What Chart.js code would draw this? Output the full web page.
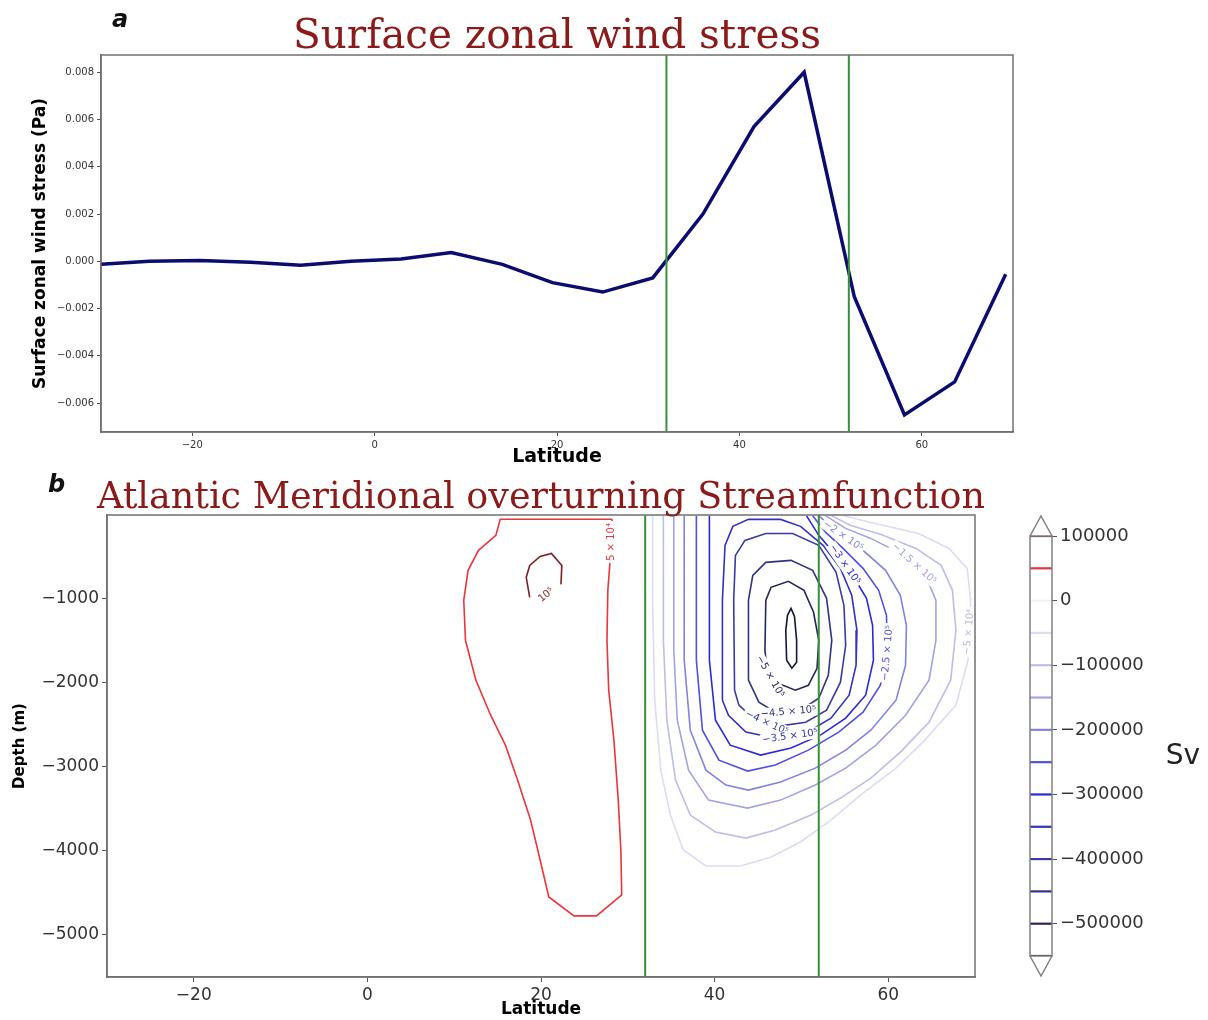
<!DOCTYPE html>
<html>
<head>
<meta charset="utf-8">
<script src="https://cdn.jsdelivr.net/npm/chart.js@4.4.1/dist/chart.umd.min.js"></script>
<style>
  body { margin: 0; background: #fff; width: 1208px; height: 1020px; overflow: hidden; position: relative; font-family: "DejaVu Sans", sans-serif; }
  canvas { position: absolute; }
  .tag { position: absolute; font-weight: bold; font-style: italic; font-size: 24px; line-height: 1; color: #111; }
</style>
</head>
<body>
<canvas id="tauChart" width="1040" height="470" style="left:0;top:0"></canvas>
<canvas id="amocChart" width="1000" height="550" style="left:0;top:470px"></canvas>
<canvas id="cbarChart" width="208" height="490" style="left:1000px;top:500px"></canvas>
<div class="tag" style="left:112px;top:7px">a</div>
<div class="tag" style="left:48px;top:472px">b</div>
<script>
// panel a: zonal mean surface wind stress
var lat = [-30.1, -24.7, -19.2, -13.6, -8.1, -2.6, 2.9, 8.4, 14.0, 19.5, 25.0, 30.5, 36.0, 41.6, 47.1, 52.6, 58.1, 63.6, 69.2];
var tauX = [-0.00013, 0.0, 0.00004, -0.00004, -0.00017, 0.0, 0.0001, 0.00037, -0.00013, -0.0009, -0.0013, -0.0007, 0.0020, 0.0057, 0.0080, -0.0015, -0.0065, -0.0051, -0.00055];

var latTicks = [-20, 0, 20, 40, 60];
var tauTicks = [-0.006, -0.004, -0.002, 0, 0.002, 0.004, 0.006, 0.008];
var depthTicks = [-1000, -2000, -3000, -4000, -5000];
var cbarTicks = [100000, 0, -100000, -200000, -300000, -400000, -500000];
var boxLats = [32, 52];

// panel b: streamfunction contour lines, [lat, depth] pairs
var psi_p100k = [[18.7,-988],[18.3,-751],[18.7,-609],[19.9,-502],[21.2,-466],[22.4,-609],[22.3,-834]];
var psi_p50k = [[28.2,-60],[15.3,-60],[14.8,-252],[12.8,-430],[11.6,-668],[11.1,-1024],[11.3,-1499],[12.5,-1973],[14.2,-2389],[15.9,-2745],[17.3,-3160],[18.8,-3635],[19.9,-4110],[20.9,-4549],[23.8,-4774],[26.4,-4774],[29.3,-4525],[29.2,-3991],[28.9,-3398],[28.4,-2685],[27.8,-2092],[27.6,-1499],[27.7,-905],[28.0,-500],[28.2,-60]];
var psi_m50k = [[32.85,-20],[32.85,-1024],[33.1,-2211],[33.8,-3042],[34.9,-3576],[36.4,-3991],[39.0,-4181],[43.0,-4181],[46.5,-4074],[49.9,-3896],[53.4,-3635],[56.8,-3338],[60.9,-3018],[64.0,-2709],[67.8,-2270],[69.2,-1736],[69.5,-1024],[69.1,-644],[67.0,-407],[63.5,-229],[58.0,-98],[54.9,-20]];
var psi_m100k = [[34.1,-20],[34.1,-1499],[34.5,-2448],[35.5,-3160],[37.2,-3576],[40.1,-3777],[43.6,-3849],[47.0,-3754],[51.1,-3576],[54.5,-3374],[58.0,-3136],[61.4,-2828],[64.7,-2472],[67.2,-1973],[67.8,-1380],[67.4,-905],[66.1,-608],[63.2,-407],[59.1,-240],[55.7,-134],[53.5,-20]];
var psi_m150k = [[35.3,-20],[35.3,-1617],[35.7,-2448],[37.0,-3042],[39.3,-3398],[43.8,-3493],[47.6,-3398],[51.6,-3219],[55.1,-3018],[58.6,-2745],[62.0,-2389],[64.7,-1973],[65.5,-1499],[65.5,-1024],[64.3,-727],[61.4,-466],[58.0,-288],[55.1,-169],[52.8,-20]];
var psi_m200k = [[36.5,-20],[36.5,-1736],[37.2,-2567],[39.0,-3042],[41.3,-3219],[43.9,-3279],[47.6,-3184],[51.6,-3018],[55.1,-2804],[58.0,-2567],[60.9,-2211],[62.0,-1795],[62.1,-1320],[61.4,-964],[59.7,-668],[57.1,-430],[54.3,-217],[52.0,-20]];
var psi_m250k = [[37.9,-20],[37.9,-1736],[38.6,-2567],[40.5,-2923],[43.8,-3053],[47.0,-2982],[50.8,-2804],[54.3,-2590],[57.1,-2353],[59.1,-2033],[59.9,-1617],[59.8,-1202],[58.9,-905],[57.1,-644],[54.8,-407],[52.8,-217],[51.3,-20]];
var psi_m300k = [[39.4,-20],[39.4,-1736],[40.1,-2448],[41.8,-2745],[45.3,-2863],[48.8,-2780],[52.2,-2626],[55.1,-2424],[57.4,-2151],[58.3,-1736],[58.2,-1320],[57.5,-1000],[55.9,-727],[54.0,-490],[52.0,-252],[50.6,-20]];
var psi_m350k = [[40.9,-2211],[40.9,-1024],[41.2,-371],[42.1,-145],[43.9,-62],[47.6,-62],[49.9,-145],[52.5,-371],[54.5,-644],[55.8,-964],[56.4,-1380],[56.3,-1795],[55.5,-2151],[53.4,-2424],[50.5,-2602],[47.0,-2662],[43.6,-2590],[41.6,-2389],[40.9,-2211]];
var psi_m400k = [[42.3,-2092],[42.2,-1024],[42.4,-490],[43.5,-312],[45.9,-229],[49.0,-229],[52.0,-371],[54.0,-691],[54.9,-1083],[55.1,-1558],[54.5,-1997],[52.9,-2329],[50.5,-2472],[47.4,-2519],[44.4,-2424],[42.8,-2270],[42.3,-2092]];
var psi_m450k = [[43.9,-1973],[43.9,-1024],[44.4,-727],[45.9,-573],[48.8,-549],[51.3,-668],[52.9,-1000],[53.5,-1499],[53.1,-1914],[52.0,-2187],[49.9,-2329],[47.0,-2353],[45.1,-2234],[43.9,-1973]];
var psi_m500k = [[45.8,-1617],[45.9,-1024],[46.5,-869],[48.5,-798],[50.3,-905],[51.4,-1166],[52.0,-1499],[51.8,-1831],[50.8,-2033],[49.3,-2092],[47.0,-1997],[46.0,-1831],[45.8,-1617]];
var psi_m550k = [[48.3,-1736],[48.2,-1380],[48.4,-1202],[48.8,-1119],[49.2,-1214],[49.45,-1499],[49.45,-1760],[48.9,-1831],[48.3,-1736]];

var levels = [100000, 50000, 0, -50000, -100000, -150000, -200000, -250000, -300000, -350000, -400000, -450000, -500000, -550000];
var levelColors = ['#7d1f24', '#e8363c', '#f3f3f3', '#dcdcf2', '#bdbdea', '#a2a2e4', '#8383de', '#5050de', '#2a2ad4', '#3232bd', '#3a3aa3', '#323282', '#25255e', '#151540'];
var psiLines = [psi_p100k, psi_p50k, null, psi_m50k, psi_m100k, psi_m150k, psi_m200k, psi_m250k, psi_m300k, psi_m350k, psi_m400k, psi_m450k, psi_m500k, psi_m550k];

// inline contour labels
var psiLabels = [
  { lat: 28.1, depth: -330, text: '5 \u00d7 10\u2074', angle: -90, level: 50000 },
  { lat: 20.6, depth: -960, text: '10\u2075', angle: -40, level: 100000 },
  { lat: 46.4, depth: -1930, text: '\u22125 \u00d7 10\u2075', angle: 60, level: -500000 },
  { lat: 48.5, depth: -2350, text: '\u22124.5 \u00d7 10\u2075', angle: -5, level: -450000 },
  { lat: 46.0, depth: -2480, text: '\u22124 \u00d7 10\u2075', angle: 25, level: -400000 },
  { lat: 48.7, depth: -2640, text: '\u22123.5 \u00d7 10\u2075', angle: -8, level: -350000 },
  { lat: 55.0, depth: -600, text: '\u22123 \u00d7 10\u2075', angle: 55, level: -300000 },
  { lat: 59.9, depth: -1650, text: '\u22122.5 \u00d7 10\u2075', angle: -85, level: -250000 },
  { lat: 54.8, depth: -260, text: '\u22122 \u00d7 10\u2075', angle: 35, level: -200000 },
  { lat: 63.0, depth: -590, text: '\u22121.5 \u00d7 10\u2075', angle: 42, level: -150000 },
  { lat: 69.3, depth: -1400, text: '\u22125 \u00d7 10\u2074', angle: -85, level: -50000 }
];

function minus(v, digits) {
  var s = digits === undefined ? String(Math.abs(v)) : Math.abs(v).toFixed(digits);
  return (v < 0 ? '\u2212' : '') + s;
}
function colorOf(level) { return levelColors[levels.indexOf(level)]; }

var frame = {
  id: 'frame',
  afterDraw: function(chart) {
    var a = chart.chartArea, ctx = chart.ctx;
    ctx.save();
    ctx.strokeStyle = '#707070';
    ctx.lineWidth = 1.5;
    ctx.strokeRect(a.left, a.top, a.right - a.left, a.bottom - a.top);
    ctx.restore();
  }
};

var panelTitle = {
  id: 'panelTitle',
  afterDraw: function(chart, args, opts) {
    var a = chart.chartArea, ctx = chart.ctx;
    ctx.save();
    ctx.font = opts.size + 'px "DejaVu Serif"';
    ctx.fillStyle = '#8b1a1a';
    ctx.textAlign = 'center';
    ctx.textBaseline = 'alphabetic';
    ctx.fillText(opts.text, (a.left + a.right) / 2, opts.baseline);
    ctx.restore();
  }
};

// labels go on after the last contour is drawn, below the green lines
var contourLabels = {
  id: 'contourLabels',
  afterDatasetDraw: function(chart, args) {
    if (args.index !== boxLats.length) return;
    var xs = chart.scales.x, ys = chart.scales.y, ctx = chart.ctx;
    ctx.save();
    ctx.font = '10px "DejaVu Sans"';
    ctx.textAlign = 'center';
    ctx.textBaseline = 'middle';
    psiLabels.forEach(function(l) {
      var px = xs.getPixelForValue(l.lat), py = ys.getPixelForValue(l.depth);
      var w = ctx.measureText(l.text).width;
      ctx.save();
      ctx.translate(px, py);
      ctx.rotate(l.angle * Math.PI / 180);
      ctx.fillStyle = '#fff';
      ctx.fillRect(-w / 2 - 2, -6, w + 4, 12);
      ctx.fillStyle = l.level === -50000 ? '#b8b8e0' : colorOf(l.level);
      ctx.fillText(l.text, 0, 0);
      ctx.restore();
    });
    ctx.restore();
  }
};

function tickAxis(ticks, size, fmt, len) {
  return {
    afterBuildTicks: function(s) { s.ticks = ticks.map(function(v) { return { value: v }; }); },
    grid: { drawOnChartArea: false, drawTicks: true, tickLength: len, color: '#555' },
    border: { display: true, color: '#707070', width: 1.5 },
    ticks: { autoSkip: false, maxRotation: 0, color: '#333', padding: 3, font: { family: 'DejaVu Sans', size: size }, callback: fmt }
  };
}

// ---- panel a ----
var tauDatasets = boxLats.map(function(b) {
  return { data: [{ x: b, y: -0.00722 }, { x: b, y: 0.00873 }], borderColor: '#3a8f3a', borderWidth: 2, showLine: true, pointRadius: 0 };
});
tauDatasets.push({
  data: lat.map(function(v, i) { return { x: v, y: tauX[i] }; }),
  borderColor: '#0b0b70', borderWidth: 3.5, showLine: true, pointRadius: 0, tension: 0
});

var tauX_axis = tickAxis(latTicks, 10, function(v) { return minus(v); }, 4);
tauX_axis.type = 'linear'; tauX_axis.min = -30; tauX_axis.max = 70;
tauX_axis.afterFit = function(s) { s.height = 38; };
tauX_axis.title = { display: true, text: 'Latitude', color: '#000', font: { family: 'DejaVu Sans', size: 19, weight: 'bold' }, padding: { top: 0, bottom: 2 } };

var tauY_axis = tickAxis(tauTicks, 10, function(v) { return minus(v, 3); }, 4);
tauY_axis.min = -0.00722; tauY_axis.max = 0.00873;
tauY_axis.afterFit = function(s) { s.width = 101; };
tauY_axis.title = { display: true, text: 'Surface zonal wind stress (Pa)', color: '#000', font: { family: 'DejaVu Sans', size: 17, weight: 'bold' }, padding: { top: 30, bottom: 0 } };

new Chart(document.getElementById('tauChart'), {
  type: 'scatter',
  data: { datasets: tauDatasets },
  options: {
    responsive: false, animation: false, devicePixelRatio: 1,
    layout: { padding: { left: 0, top: 55, right: 27, bottom: 0 } },
    scales: { x: tauX_axis, y: tauY_axis },
    plugins: {
      legend: { display: false }, tooltip: { enabled: false },
      panelTitle: { text: 'Surface zonal wind stress', size: 40.5, baseline: 48 }
    }
  },
  plugins: [frame, panelTitle]
});

// ---- panel b ----
var psiDatasets = boxLats.map(function(b) {
  return { data: [{ x: b, y: -5500 }, { x: b, y: -10 }], borderColor: '#3a8f3a', borderWidth: 2, showLine: true, pointRadius: 0 };
});
levels.forEach(function(lv, i) {
  if (!psiLines[i]) return;
  psiDatasets.push({
    data: psiLines[i].map(function(p) { return { x: p[0], y: p[1] }; }),
    borderColor: levelColors[i], borderWidth: 1.6, showLine: true, pointRadius: 0, tension: 0
  });
});

var psiX_axis = tickAxis(latTicks, 17, function(v) { return minus(v); }, 5);
psiX_axis.type = 'linear'; psiX_axis.min = -30; psiX_axis.max = 70;
psiX_axis.afterFit = function(s) { s.height = 43; };
psiX_axis.title = { display: true, text: 'Latitude', color: '#000', font: { family: 'DejaVu Sans', size: 17, weight: 'bold' }, padding: { top: 0, bottom: 0 } };

var psiY_axis = tickAxis(depthTicks, 17, function(v) { return minus(v); }, 5);
psiY_axis.min = -5500; psiY_axis.max = -10;
psiY_axis.afterFit = function(s) { s.width = 107; };
psiY_axis.title = { display: true, text: 'Depth (m)', color: '#000', font: { family: 'DejaVu Sans', size: 15, weight: 'bold' }, padding: { top: 11, bottom: 0 } };

new Chart(document.getElementById('amocChart'), {
  type: 'scatter',
  data: { datasets: psiDatasets },
  options: {
    responsive: false, animation: false, devicePixelRatio: 1,
    layout: { padding: { left: 0, top: 45, right: 25, bottom: 0 } },
    scales: { x: psiX_axis, y: psiY_axis },
    plugins: {
      legend: { display: false }, tooltip: { enabled: false },
      panelTitle: { text: 'Atlantic Meridional overturning Streamfunction', size: 36.5, baseline: 38 }
    }
  },
  plugins: [contourLabels, frame, panelTitle]
});

// ---- colour bar ----
var cbarBox = {
  id: 'cbarBox',
  afterDraw: function(chart) {
    var a = chart.chartArea, ctx = chart.ctx, cx = (a.left + a.right) / 2;
    ctx.save();
    ctx.strokeStyle = '#808080';
    ctx.lineWidth = 1.5;
    ctx.fillStyle = '#fff';
    ctx.beginPath();
    ctx.moveTo(a.left, a.top); ctx.lineTo(cx, a.top - 20); ctx.lineTo(a.right, a.top);
    ctx.moveTo(a.left, a.bottom); ctx.lineTo(cx, a.bottom + 20); ctx.lineTo(a.right, a.bottom);
    ctx.stroke();
    ctx.strokeRect(a.left, a.top, a.right - a.left, a.bottom - a.top);
    ctx.fillStyle = '#222';
    ctx.font = '28px "DejaVu Sans"';
    ctx.textAlign = 'center';
    ctx.textBaseline = 'middle';
    ctx.fillText('Sv', 183, 257);
    ctx.restore();
  }
};

var cbarDatasets = levels.map(function(lv, i) {
  return { data: [{ x: 0, y: lv }, { x: 1, y: lv }], borderColor: levelColors[i], borderWidth: 2.2, showLine: true, pointRadius: 0 };
});

var cbarY_axis = tickAxis(cbarTicks, 18, function(v) { return minus(v); }, 5);
cbarY_axis.position = 'right';
cbarY_axis.min = -550000; cbarY_axis.max = 100000;
cbarY_axis.afterFit = function(s) { s.width = 156; };
cbarY_axis.border = { display: false };

new Chart(document.getElementById('cbarChart'), {
  type: 'scatter',
  data: { datasets: cbarDatasets },
  options: {
    responsive: false, animation: false, devicePixelRatio: 1,
    layout: { padding: { left: 30, top: 36, right: 0, bottom: 34 } },
    scales: { x: { display: false, min: 0, max: 1 }, y: cbarY_axis },
    plugins: { legend: { display: false }, tooltip: { enabled: false } }
  },
  plugins: [cbarBox]
});
</script>
</body>
</html>
